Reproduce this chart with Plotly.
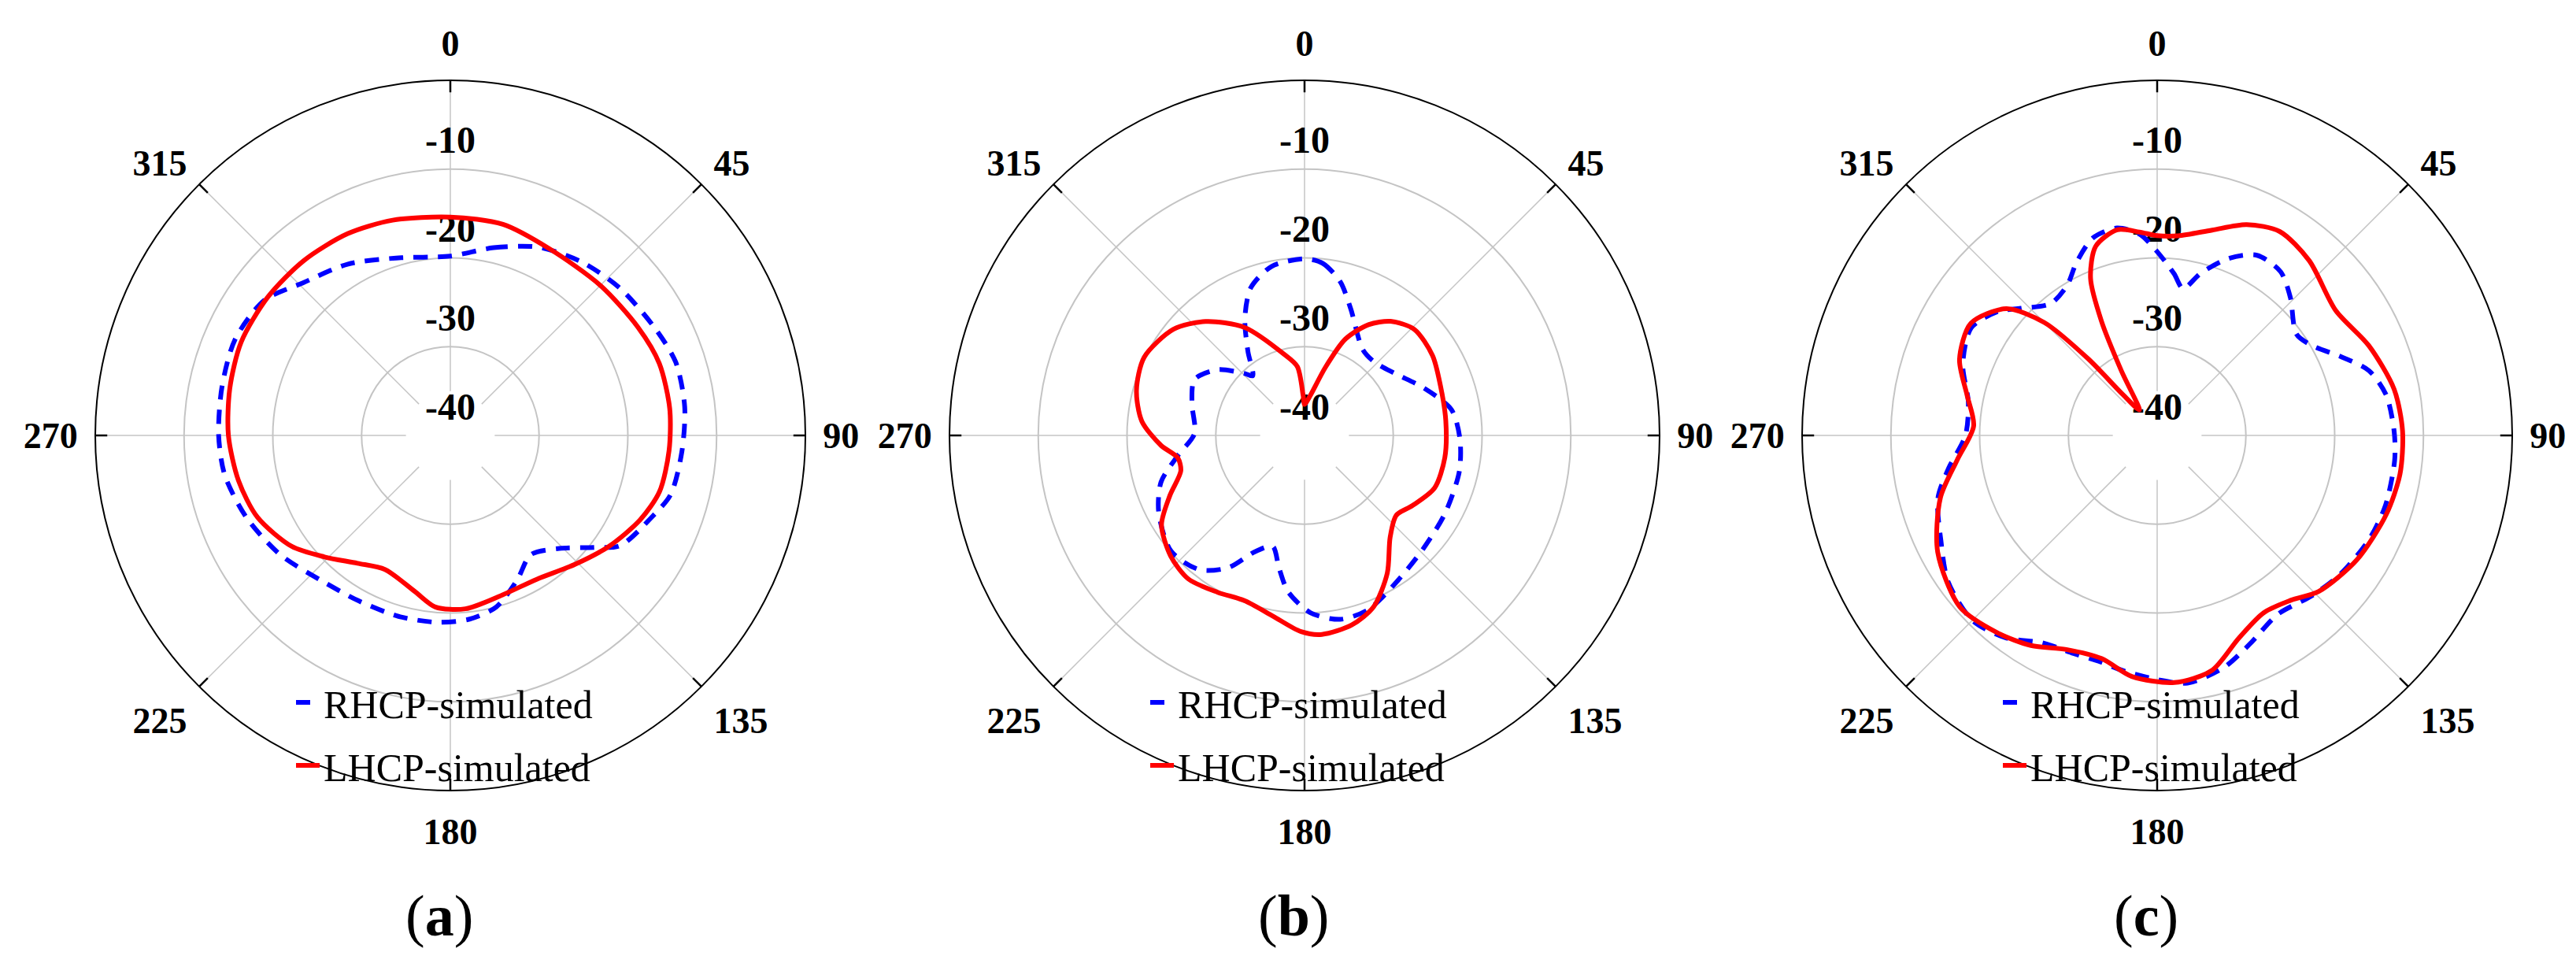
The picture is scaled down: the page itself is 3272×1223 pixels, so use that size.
import plotly.graph_objects as go

# ---------------- data ----------------
angle_ticks = [0, 45, 90, 135, 180, 225, 270, 315]
angle_labels = ["0", "45", "90", "135", "180", "225", "270", "315"]
radial_ticks = [-40, -30, -20, -10]
radial_labels = ["-40", "-30", "-20", "-10"]
panel_labels = ["a", "b", "c"]
series_names = ["RHCP-simulated", "LHCP-simulated"]

# panel (a)
a_rhcp_theta = [0, 13, 25, 37, 49, 62, 72, 83, 94, 105, 112, 123, 128, 136, 146, 155, 165, 174, 184, 196,
                209, 222, 235, 248, 260, 270, 282, 294, 306, 316, 329, 343, 360]
a_rhcp_r = [-19.8, -18.3, -16.6, -15.5, -14.7, -14.0, -13.3, -13.4, -13.85, -14.3, -15.5, -17.2, -19.5, -22.3,
            -23.8, -22.1, -20.0, -19.2, -18.9, -18.8, -18.7, -18.1, -16.6, -15.25, -14.2, -13.9, -13.7, -13.45,
            -14.1, -16.1, -17.5, -19.1, -19.8]
a_lhcp_theta = [0, 14, 28, 45, 60, 71, 83, 94, 105, 114, 125, 136, 149, 162, 175, 185, 193, 206, 216, 226,
                235, 247, 258, 270, 282, 294, 307, 320, 333, 345, 360]
a_lhcp_r = [-15.4, -15.5, -16.2, -16.1, -15.6, -15.1, -15.1, -15.3, -15.6, -16.6, -18.2, -19.8, -21.1, -21.1,
            -20.4, -20.6, -22.0, -23.2, -22.2, -20.3, -18.2, -16.4, -15.6, -15.0, -14.6, -14.2, -14.2, -14.3,
            -14.5, -14.9, -15.4]

# panel (b)
b_rhcp_theta = [0, 6, 13, 20, 34, 43, 56, 68, 80, 91, 103, 119, 134, 148, 160, 169, 178, 186, 191, 196,
                203, 210, 218, 229, 242, 252, 261, 271, 286, 297, 307, 316, 319, 326, 333, 340, 349, 360]
b_rhcp_r = [-20.1, -20.5, -22.2, -24.8, -28.3, -28.6, -27.6, -25.6, -23.2, -22.5, -22.1, -21.9, -21.5, -20.5,
            -19.1, -18.9, -20.0, -22.3, -24.85, -27.0, -25.8, -22.8, -20.8, -20.1, -21.4, -23.0, -25.55, -27.6,
            -26.8, -26.1, -27.7, -30.3, -31.1, -28.6, -25.2, -22.3, -20.6, -20.1]
b_lhcp_theta = [0, 8, 17, 23, 30, 37, 46, 58, 70, 84, 99, 112, 123, 131, 140, 149, 158, 166, 175, 181,
                190, 200, 209, 219, 228, 238, 246, 254, 260, 266, 275, 285, 296, 309, 319, 331, 346, 354, 358, 360]
b_lhcp_r = [-36.5, -35.5, -32.0, -28.2, -25.6, -23.9, -22.8, -23.0, -23.7, -24.0, -24.0, -24.2, -25.5, -26.3,
            -25.0, -21.9, -19.2, -18.0, -17.5, -17.9, -19.35, -20.2, -19.8, -19.2, -19.7, -21.0, -23.4, -25.5,
            -25.5, -23.8, -21.6, -20.4, -19.9, -21.0, -23.0, -26.1, -30.6, -32.2, -35.5, -36.5]

# panel (c)
c_rhcp_theta = [0, 6, 10, 15, 22, 29, 37, 44, 54, 60, 67, 73, 80, 89, 96, 107, 116, 127, 136, 146,
                156, 164, 173, 180, 188, 194, 201, 209, 217, 225, 235, 244, 254, 261, 270, 280, 290, 300,
                308, 313, 321, 329, 335, 342, 349, 355, 360]
c_rhcp_r = [-19.3, -21.7, -23.2, -21.1, -18.5, -16.8, -16.9, -18.4, -20.6, -19.8, -17.4, -15.05, -13.8, -13.3,
            -13.1, -13.1, -13.4, -14.1, -14.9, -15.7, -14.3, -12.8, -11.9, -12.5, -13.2, -13.7, -13.7, -13.3,
            -11.5, -10.55, -11.25, -12.9, -14.3, -16.2, -18.4, -18.4, -16.7, -15.8, -17.3, -19.0, -20.9, -20.3,
            -18.5, -16.6, -16.2, -17.25, -19.3]
c_lhcp_theta = [0, 6, 15, 23, 31, 41, 55, 67, 79, 89, 99, 109, 122, 134, 141, 149, 158, 167, 176, 186,
                194, 203, 211, 219, 229, 242, 254, 263, 273, 282, 291, 301, 310, 315, 318, 320, 325, 331,
                334, 337, 342, 349, 355, 360]
c_lhcp_r = [-17.5, -17.4, -16.05, -14.2, -13.2, -13.9, -15.45, -14.1, -12.8, -12.35, -12.3, -12.7, -13.5, -14.7,
            -16.1, -16.7, -15.4, -12.8, -12.1, -12.7, -14.1, -13.8, -12.4, -11.4, -10.55, -12.0, -14.6, -17.3,
            -19.3, -18.1, -16.15, -15.5, -17.8, -22.0, -28.4, -34.0, -36.5, -31.7, -25.7, -20.8, -17.6, -16.4,
            -17.0, -17.5]

panels = [
    (a_rhcp_theta, a_rhcp_r, a_lhcp_theta, a_lhcp_r),
    (b_rhcp_theta, b_rhcp_r, b_lhcp_theta, b_lhcp_r),
    (c_rhcp_theta, c_rhcp_r, c_lhcp_theta, c_lhcp_r),
]

# ---------------- layout constants ----------------
W, H = 3272, 1223
centers_x = [564, 1649, 2732]
center_y = 545
radius = 451
R_MIN, R_MAX = -40, 0
spoke_start = -35      # radial grid lines start here (gap around the centre)
tick_start = -1.35     # short black inside ticks at the rim
SERIF = "Liberation Serif, Times New Roman, serif"
BLUE = "#0000ff"
RED = "#ff0000"
GRID = "#c4c4c4"

fig = go.Figure()
layout = dict(
    width=W, height=H,
    margin=dict(l=0, r=0, t=0, b=0),
    paper_bgcolor="white",
    plot_bgcolor="white",
    annotations=[],
)

for i, (rt, rr, lt, lr) in enumerate(panels):
    sub = "polar" if i == 0 else f"polar{i+1}"
    leg = "legend" if i == 0 else f"legend{i+1}"
    cx = centers_x[i]

    # radial spokes (with a gap around the centre) and inside rim ticks
    sp_r, sp_t, tk_r, tk_t = [], [], [], []
    for a in angle_ticks:
        sp_r += [spoke_start, R_MAX, None]
        sp_t += [a, a, None]
        tk_r += [tick_start, R_MAX, None]
        tk_t += [a, a, None]
    fig.add_trace(go.Scatterpolar(
        r=sp_r, theta=sp_t, mode="lines", subplot=sub,
        line=dict(color=GRID, width=1.5), showlegend=False, hoverinfo="skip"))
    fig.add_trace(go.Scatterpolar(
        r=tk_r, theta=tk_t, mode="lines", subplot=sub,
        line=dict(color="black", width=2.5), showlegend=False, hoverinfo="skip"))

    # radial tick labels along the 0° direction
    fig.add_trace(go.Scatterpolar(
        r=radial_ticks, theta=[0] * len(radial_ticks), mode="markers+text", subplot=sub,
        text=radial_labels, textposition="top center",
        marker=dict(size=12, color="rgba(0,0,0,0)"),
        textfont=dict(family=SERIF, size=48, color="black", weight="bold"),
        showlegend=False, hoverinfo="skip"))

    fig.add_trace(go.Scatterpolar(
        r=rr, theta=rt, mode="lines", subplot=sub, name=series_names[0],
        legend=leg, legendgroup=f"{i}r",
        line=dict(color=BLUE, width=6, dash="18px,13px", shape="spline", smoothing=0.8)))
    fig.add_trace(go.Scatterpolar(
        r=lr, theta=lt, mode="lines", subplot=sub, name=series_names[1],
        legend=leg, legendgroup=f"{i}l",
        line=dict(color=RED, width=6, shape="spline", smoothing=0.8)))

    layout[sub] = dict(
        domain=dict(x=[(cx - radius) / W, (cx + radius) / W],
                    y=[1 - (center_y + radius) / H, 1 - (center_y - radius) / H]),
        bgcolor="white",
        radialaxis=dict(range=[R_MIN, R_MAX], tickvals=radial_ticks + [R_MAX],
                        showticklabels=False, ticks="", showline=False,
                        gridcolor=GRID, gridwidth=1.5),
        angularaxis=dict(rotation=90, direction="clockwise",
                         tickvals=angle_ticks, ticktext=angle_labels,
                         showgrid=False, ticks="outside", ticklen=12, tickwidth=1,
                         tickcolor="rgba(0,0,0,0)", showline=True, linecolor="black", linewidth=2,
                         tickfont=dict(family=SERIF, size=46, color="black", weight="bold")),
    )
    layout[leg] = dict(
        x=(cx - 161 - 40) / W, xanchor="left",
        y=1 - 845 / H, yanchor="top",
        bgcolor="rgba(0,0,0,0)", borderwidth=0,
        font=dict(family=SERIF, size=50, color="black"),
        tracegroupgap=12, itemwidth=30,
    )
    layout["annotations"].append(dict(
        x=(cx - 14) / W, y=1 - 1155 / H, xref="paper", yref="paper",
        text=f"(<b>{panel_labels[i]}</b>)", showarrow=False,
        font=dict(family=SERIF, size=74, color="black"),
        xanchor="center", yanchor="middle"))

fig.update_layout(**layout)
fig.write_html("out.html")
